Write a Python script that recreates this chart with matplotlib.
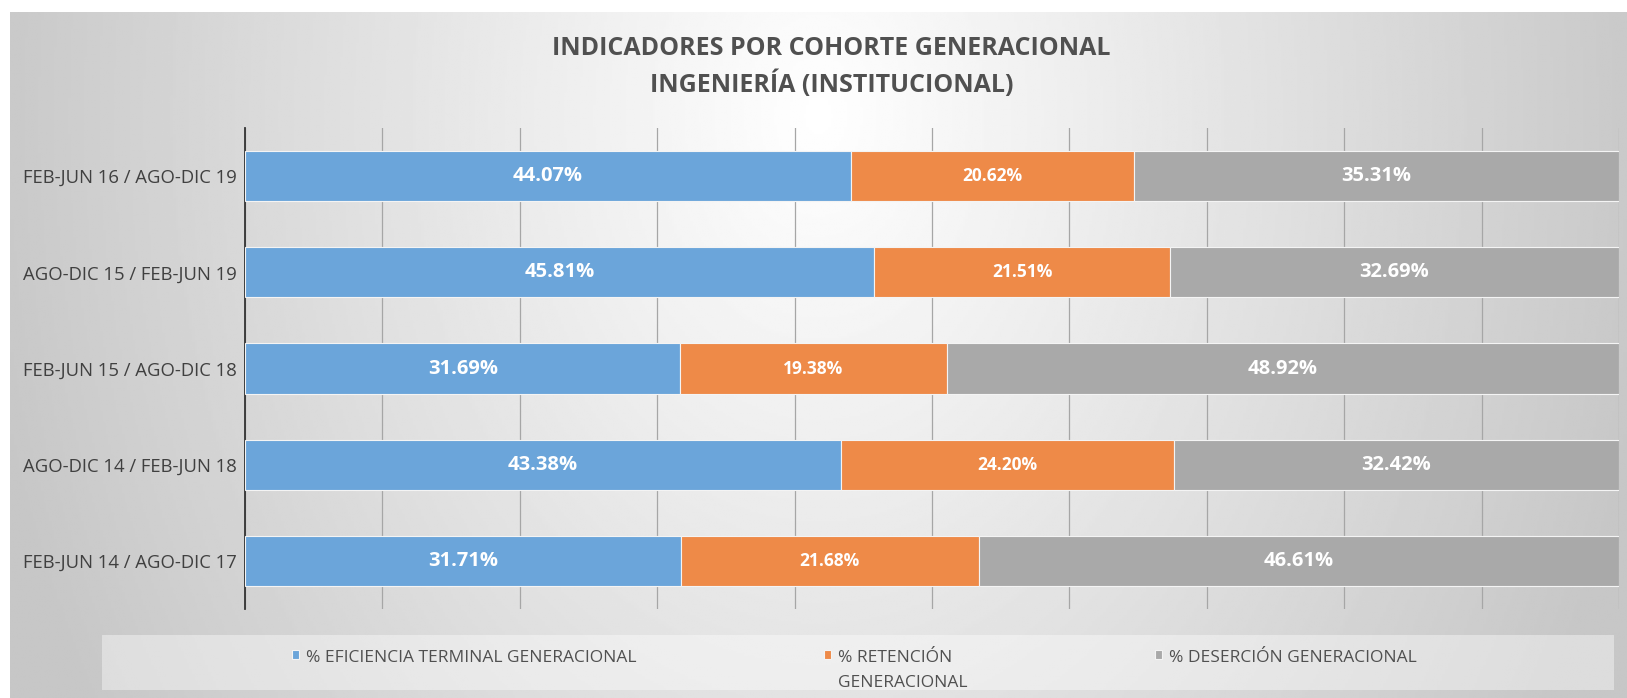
import numpy as np
import matplotlib
matplotlib.use("Agg")
import matplotlib.pyplot as plt
from matplotlib import font_manager
from matplotlib.patches import Rectangle

# cohort labels, top to bottom
cohortes = ["FEB-JUN 16 / AGO-DIC 19", "AGO-DIC 15 / FEB-JUN 19", "FEB-JUN 15 / AGO-DIC 18",
            "AGO-DIC 14 / FEB-JUN 18", "FEB-JUN 14 / AGO-DIC 17"]
eficiencia = [44.07, 45.81, 31.69, 43.38, 31.71]
retencion = [20.62, 21.51, 19.38, 24.20, 21.68]
desercion = [35.31, 32.69, 48.92, 32.42, 46.61]
series_names = ["% EFICIENCIA TERMINAL GENERACIONAL", "% RETENCIÓN\nGENERACIONAL",
                "% DESERCIÓN GENERACIONAL"]
colors = ["#6BA5DA", "#EE8A48", "#A9A9A9"]

installed = {f.name for f in font_manager.fontManager.ttflist}
font = "DejaVu Sans"
for cand in ["Liberation Sans Narrow", "Open Sans", "Lato"]:
    if cand in installed:
        font = cand
        break
plt.rcParams["font.family"] = [font, "DejaVu Sans"]

fig = plt.figure(figsize=(16.27, 6.98), dpi=100)
fig.patch.set_facecolor("white")

# radial grey background of the chart area
bg = fig.add_axes([10 / 1627, 0, 1 - 10 / 1627, 1 - 12 / 698], zorder=-10)
yy, xx = np.mgrid[0:1:300j, 0:1:600j]
d = np.sqrt(((xx - 0.5) / 0.5) ** 2 + ((yy - 0.15) / 1.6) ** 2)
shade = np.clip(1.0 - 0.21 * d, 0.78, 1.0)
bg.imshow(shade, cmap="gray", vmin=0, vmax=1, aspect="auto", extent=[0, 1, 1, 0])
bg.axis("off")

ax = fig.add_axes([245 / 1627, 1 - 609 / 698, (1619 - 245) / 1627, (609 - 128) / 698])
ax.set_facecolor("none")

y = np.arange(len(cohortes))
left = np.zeros(len(cohortes))
for i, (vals, c, name) in enumerate(zip([eficiencia, retencion, desercion], colors, series_names)):
    v = np.array(vals) / 100
    bars = ax.barh(y, v, left=left, height=0.52, color=c, edgecolor="#F4F4F4",
                   linewidth=0.8, label=name, zorder=3)
    ax.bar_label(bars, labels=[f"{x:.2f}%" for x in vals], label_type="center",
                 color="white", fontweight="bold", fontsize=12.5 if i == 1 else 14.5)
    left += v

ax.set_xlim(0, 1)
ax.set_ylim(4.5, -0.5)
ax.set_xticks(np.arange(0, 1.01, 0.1))
ax.set_xticklabels([])
ax.tick_params(axis="x", length=0)
ax.tick_params(axis="y", length=0, pad=6, labelsize=13.3, labelcolor="#404040")
ax.set_yticks(y)
ax.set_yticklabels(cohortes)
ax.grid(axis="x", color="#A6A6A6", linewidth=0.9, zorder=0)
for s in ["top", "right", "bottom"]:
    ax.spines[s].set_visible(False)
ax.spines["left"].set_color("#333333")
ax.spines["left"].set_linewidth(1.3)

fig.text(0.511, 1 - 67 / 698, "INDICADORES POR COHORTE GENERACIONAL\nINGENIERÍA (INSTITUCIONAL)",
         ha="center", va="center", fontsize=18, fontweight="bold", color="#505050",
         linespacing=1.45)

# legend box
fig.patches.append(Rectangle((102 / 1627, 1 - 690 / 698), (1614 - 102) / 1627, 55 / 698,
                             transform=fig.transFigure, facecolor="white", alpha=0.4,
                             edgecolor="none", zorder=0))
leg = fig.legend(loc="upper center", bbox_to_anchor=(0.525, 1 - 638 / 698), ncol=3, frameon=False,
                 fontsize=12.5, labelcolor="#505050", handlelength=0.4, handleheight=0.4,
                 handletextpad=0.4, columnspacing=10.8, borderpad=0.2)
for t in leg.get_texts():
    t.set_linespacing(1.7)
leg._legend_handle_box.align = "top"
for col in leg._legend_handle_box.get_children():
    for row in col.get_children():
        row.align = "top"

fig.savefig("out.png", dpi=100)
